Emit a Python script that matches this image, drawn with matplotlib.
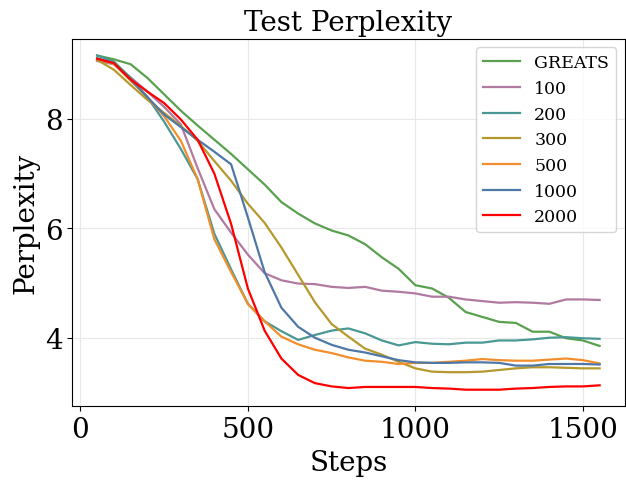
import matplotlib
matplotlib.use("Agg")
import matplotlib.pyplot as plt

steps = list(range(50, 1551, 50))

greats = [9.16, 9.09, 9.00, 8.75, 8.45, 8.15, 7.88, 7.62, 7.36, 7.08, 6.80, 6.48, 6.27, 6.09, 5.96, 5.87,
          5.71, 5.47, 5.26, 4.96, 4.90, 4.73, 4.47, 4.38, 4.29, 4.27, 4.11, 4.11, 3.99, 3.95, 3.85]
s100 = [9.06, 9.00, 8.76, 8.50, 8.22, 7.90, 7.10, 6.35, 5.92, 5.52, 5.18, 5.05, 4.99, 4.98, 4.93, 4.91,
        4.93, 4.86, 4.84, 4.81, 4.75, 4.75, 4.70, 4.67, 4.64, 4.65, 4.64, 4.62, 4.70, 4.70, 4.69]
s200 = [9.16, 9.05, 8.75, 8.40, 7.95, 7.45, 6.90, 5.90, 5.25, 4.62, 4.30, 4.12, 3.96, 4.05, 4.13, 4.17,
        4.08, 3.95, 3.86, 3.92, 3.89, 3.88, 3.91, 3.91, 3.95, 3.95, 3.97, 4.00, 4.01, 3.99, 3.98]
s300 = [9.08, 8.90, 8.62, 8.35, 8.11, 7.87, 7.60, 7.23, 6.87, 6.45, 6.10, 5.65, 5.15, 4.65, 4.25, 4.02,
        3.80, 3.69, 3.56, 3.44, 3.38, 3.37, 3.37, 3.38, 3.41, 3.44, 3.46, 3.46, 3.45, 3.44, 3.44]
s500 = [9.10, 9.00, 8.70, 8.40, 8.05, 7.60, 6.90, 5.80, 5.20, 4.62, 4.30, 4.02, 3.88, 3.78, 3.72, 3.64,
        3.58, 3.56, 3.52, 3.54, 3.54, 3.56, 3.58, 3.61, 3.59, 3.58, 3.58, 3.60, 3.62, 3.59, 3.53]
s1000 = [9.11, 9.02, 8.72, 8.40, 8.08, 7.85, 7.62, 7.40, 7.17, 6.20, 5.20, 4.55, 4.20, 4.00, 3.87, 3.78,
         3.73, 3.66, 3.59, 3.55, 3.54, 3.54, 3.55, 3.55, 3.54, 3.49, 3.49, 3.52, 3.52, 3.52, 3.51]
s2000 = [9.10, 9.02, 8.72, 8.50, 8.29, 7.99, 7.62, 7.00, 6.08, 4.90, 4.13, 3.62, 3.32, 3.17, 3.11, 3.08,
         3.10, 3.10, 3.10, 3.10, 3.08, 3.07, 3.05, 3.05, 3.05, 3.07, 3.08, 3.10, 3.11, 3.11, 3.13]

labels = ["GREATS", "100", "200", "300", "500", "1000", "2000"]
series = [greats, s100, s200, s300, s500, s1000, s2000]
colors = ["#59a14f", "#b07aa1", "#499894", "#b6992d", "#f28e2b", "#4e79a7", "#ff0000"]

plt.rcParams['font.family'] = ['DejaVu Serif']

fig, ax = plt.subplots(figsize=(6.26, 4.85), dpi=100)
fig.subplots_adjust(left=0.115, right=0.998, top=0.918, bottom=0.16)

for lab, ys, c in zip(labels, series, colors):
    ax.plot(steps, ys, color=c, lw=1.6, label=lab)

ax.grid(True, color="#e8e8e8", lw=0.8)
ax.set_axisbelow(True)
ax.set_title("Test Perplexity", fontsize=20)
ax.set_xlabel("Steps", fontsize=20)
ax.set_ylabel("Perplexity", fontsize=20)
ax.tick_params(labelsize=20)
ax.set_yticks([4, 6, 8])
ax.set_xticks([0, 500, 1000, 1500])
ax.legend(fontsize=12.5, loc="upper right", framealpha=0.8,
          handlelength=2.15, labelspacing=0.5)

fig.savefig("out.png", dpi=100)
